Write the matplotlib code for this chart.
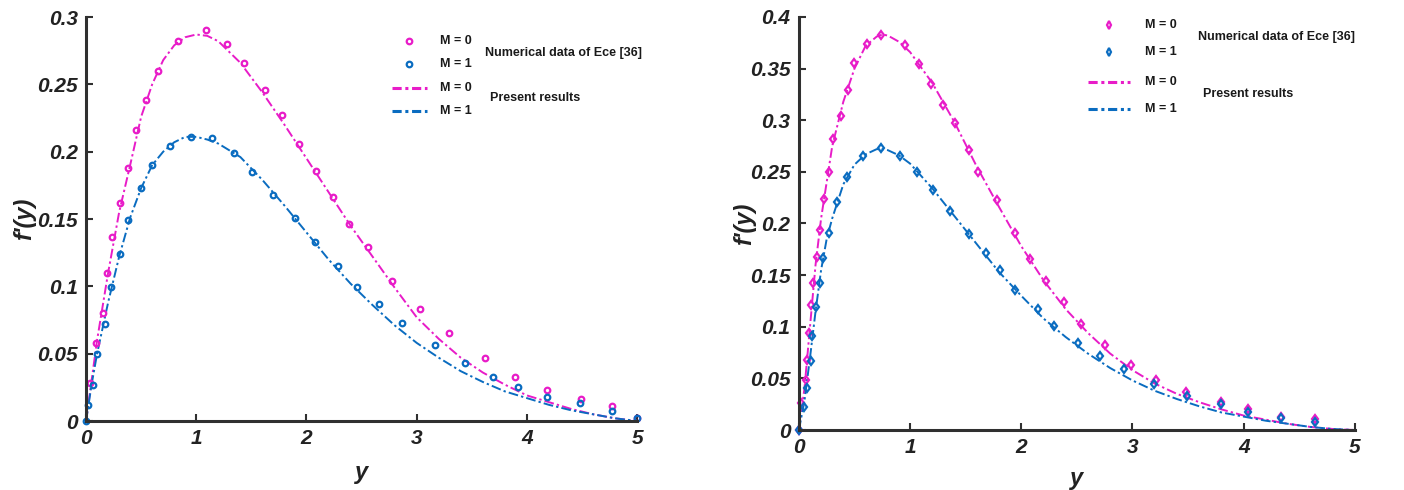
import matplotlib.pyplot as plt

# colores de las curvas
rosa = "#e81cc8"
azul = "#0a6cc0"
gris = "#303030"

# ---- panel izquierdo: datos numericos de Ece [36] ----
xa_m0 = [0.04, 0.094, 0.15, 0.19, 0.236, 0.31, 0.38, 0.45, 0.54, 0.65, 0.83, 1.09, 1.28, 1.43,
         1.62, 1.78, 1.93, 2.09, 2.24, 2.39, 2.56, 2.78, 3.03, 3.29, 3.62, 3.89, 4.18, 4.49,
         4.77, 5.0]
ya_m0 = [0.0285, 0.058, 0.080, 0.110, 0.137, 0.162, 0.188, 0.216, 0.238, 0.260, 0.282, 0.290,
         0.280, 0.266, 0.246, 0.227, 0.206, 0.186, 0.166, 0.146, 0.129, 0.104, 0.083, 0.065,
         0.0465, 0.0327, 0.0228, 0.0166, 0.0111, 0.002]
xa_m1 = [0.0, 0.015, 0.06, 0.10, 0.17, 0.23, 0.31, 0.38, 0.50, 0.60, 0.76, 0.95, 1.14, 1.34,
         1.51, 1.70, 1.90, 2.08, 2.29, 2.46, 2.66, 2.87, 3.17, 3.44, 3.69, 3.92, 4.18, 4.48,
         4.77, 5.0]
ya_m1 = [0.0, 0.012, 0.027, 0.0495, 0.072, 0.0995, 0.124, 0.149, 0.173, 0.190, 0.204, 0.211,
         0.210, 0.199, 0.185, 0.168, 0.151, 0.133, 0.115, 0.0998, 0.087, 0.0725, 0.0564,
         0.0433, 0.0327, 0.0252, 0.0178, 0.0131, 0.0074, 0.002]

# resultados presentes (panel izquierdo)
xl = [0, 0.05, 0.1, 0.2, 0.3, 0.4, 0.5, 0.6, 0.7, 0.8, 0.9, 1.0, 1.1, 1.2, 1.4, 1.6, 1.8, 2.0,
      2.2, 2.4, 2.6, 2.8, 3.0, 3.2, 3.4, 3.6, 3.8, 4.0, 4.2, 4.4, 4.6, 4.8, 5.0]
yl_m0 = [0, 0.03, 0.06, 0.11, 0.155, 0.19, 0.226, 0.25, 0.268, 0.279, 0.285, 0.287, 0.286,
         0.282, 0.266, 0.244, 0.22, 0.195, 0.17, 0.145, 0.122, 0.099, 0.077, 0.061, 0.047,
         0.036, 0.027, 0.019, 0.014, 0.009, 0.005, 0.002, 0.0]
yl_m1 = [0, 0.027, 0.05, 0.088, 0.122, 0.151, 0.173, 0.19, 0.2, 0.207, 0.211, 0.211, 0.209,
         0.206, 0.196, 0.179, 0.16, 0.14, 0.12, 0.102, 0.086, 0.071, 0.058, 0.047, 0.037,
         0.029, 0.022, 0.017, 0.012, 0.008, 0.005, 0.002, 0.0]

# ---- panel derecho: datos numericos de Ece [36] ----
xb_m0 = [0.0, 0.02, 0.06, 0.07, 0.093, 0.11, 0.13, 0.16, 0.19, 0.23, 0.27, 0.31, 0.38, 0.44,
         0.50, 0.61, 0.74, 0.95, 1.08, 1.19, 1.30, 1.40, 1.53, 1.61, 1.78, 1.94, 2.08, 2.22,
         2.38, 2.54, 2.75, 2.99, 3.21, 3.48, 3.80, 4.04, 4.34, 4.64]
yb_m0 = [0.0, 0.026, 0.048, 0.068, 0.094, 0.121, 0.142, 0.168, 0.194, 0.224, 0.250, 0.282,
         0.304, 0.329, 0.355, 0.374, 0.383, 0.3725, 0.354, 0.335, 0.315, 0.297, 0.271, 0.250,
         0.223, 0.191, 0.166, 0.144, 0.124, 0.103, 0.082, 0.063, 0.048, 0.0365, 0.0275,
         0.020, 0.013, 0.0107]
xb_m1 = [0.0, 0.044, 0.073, 0.105, 0.12, 0.153, 0.186, 0.218, 0.275, 0.347, 0.436, 0.578, 0.74,
         0.91, 1.06, 1.21, 1.36, 1.53, 1.68, 1.81, 1.94, 2.15, 2.29, 2.51, 2.71, 2.92, 3.19,
         3.49, 3.80, 4.04, 4.34, 4.64]
yb_m1 = [0.0, 0.0226, 0.041, 0.067, 0.091, 0.1195, 0.142, 0.167, 0.191, 0.221, 0.245, 0.265,
         0.273, 0.265, 0.250, 0.232, 0.212, 0.190, 0.171, 0.1545, 0.136, 0.117, 0.101, 0.084,
         0.0717, 0.059, 0.0446, 0.033, 0.0249, 0.0178, 0.0113, 0.0074]

# resultados presentes (panel derecho)
xr = [0, 0.05, 0.1, 0.15, 0.2, 0.25, 0.3, 0.4, 0.5, 0.6, 0.7, 0.75, 0.8, 0.9, 1.0, 1.2, 1.4,
      1.6, 1.8, 2.0, 2.2, 2.4, 2.6, 2.8, 3.0, 3.2, 3.4, 3.6, 3.8, 4.0, 4.2, 4.4, 4.6, 4.8, 5.0]
yr_m0 = [0, 0.04, 0.1, 0.16, 0.205, 0.24, 0.275, 0.318, 0.35, 0.372, 0.381, 0.383, 0.382,
         0.376, 0.366, 0.336, 0.298, 0.255, 0.216, 0.178, 0.145, 0.117, 0.094, 0.074, 0.058,
         0.045, 0.035, 0.027, 0.02, 0.014, 0.01, 0.006, 0.003, 0.001, 0.0]
yr_m1 = [0, 0.028, 0.07, 0.115, 0.155, 0.185, 0.205, 0.238, 0.257, 0.267, 0.272, 0.272, 0.271,
         0.266, 0.258, 0.234, 0.207, 0.18, 0.153, 0.13, 0.108, 0.09, 0.074, 0.06, 0.048, 0.038,
         0.03, 0.023, 0.017, 0.013, 0.009, 0.006, 0.003, 0.001, 0.0]

plt.rcParams['font.family'] = ['Liberation Sans', 'DejaVu Sans']

fig = plt.figure(figsize=(14.04, 4.9), dpi=100)
ax1 = fig.add_axes([0.0613, 0.1408, 0.3925, 0.8245])
ax2 = fig.add_axes([0.569, 0.1224, 0.396, 0.843])

lw = 1.4
est = (0, (5, 1.6, 1.2, 1.6))


def estilo(ax, ymax, paso):
    ax.set_xlim(0, 5)
    ax.set_ylim(0, ymax)
    ax.set_xticks([0, 1, 2, 3, 4, 5])
    n = int(round(ymax / paso))
    yt = [i * paso for i in range(n + 1)]
    ax.set_yticks(yt)
    ax.set_yticklabels(["0"] + ["%g" % v for v in yt[1:]])
    for s in ["top", "right"]:
        ax.spines[s].set_visible(False)
    for s in ["left", "bottom"]:
        ax.spines[s].set_color(gris)
        ax.spines[s].set_linewidth(2.2)
    ax.tick_params(direction="in", length=5, width=1.5, color=gris, labelsize=15,
                   labelcolor="#222222", pad=6)
    for t in ax.get_xticklabels() + ax.get_yticklabels():
        t.set_fontweight("bold")
        t.set_fontstyle("italic")
    ax.set_xlabel("y", fontsize=17, fontweight="bold", fontstyle="italic", color="#222222")
    ax.set_ylabel("f'(y)", fontsize=17, fontweight="bold", fontstyle="italic", color="#222222")


# panel izquierdo
ax1.plot(xl, yl_m0, color=rosa, lw=lw, linestyle=est, clip_on=False)
ax1.plot(xl, yl_m1, color=azul, lw=lw, linestyle=est, clip_on=False)
ax1.plot(xa_m0, ya_m0, "o", ms=4, mfc="none", mec=rosa, mew=1.6, clip_on=False)
ax1.plot(xa_m1, ya_m1, "o", ms=4, mfc="none", mec=azul, mew=1.6, clip_on=False)
estilo(ax1, 0.3, 0.05)
ax1.xaxis.set_label_coords(0.5, -0.1)
ax1.yaxis.set_label_coords(-0.09, 0.5)

# panel derecho
ax2.plot(xr, yr_m0, color=rosa, lw=lw, linestyle=est, clip_on=False)
ax2.plot(xr, yr_m1, color=azul, lw=lw, linestyle=est, clip_on=False)
ax2.plot(xb_m0, yb_m0, "d", ms=4.5, mfc="none", mec=rosa, mew=1.6, clip_on=False)
ax2.plot(xb_m1, yb_m1, "d", ms=4.5, mfc="none", mec=azul, mew=1.6, clip_on=False)
estilo(ax2, 0.4, 0.05)
ax2.xaxis.set_label_coords(0.5, -0.09)
ax2.yaxis.set_label_coords(-0.076, 0.5)


# leyendas dibujadas a mano en coordenadas de pixel de la figura
def px(x, y):
    return x / 1404, 1 - y / 490


def leyenda(mk, xm, xt, y0, y1, y2, y3, xn, yn, xp, yp, x_l0, x_l1):
    fig.lines.append(plt.Line2D(*zip(px(xm, y0)), marker=mk, ms=4, mfc="none", mec=rosa,
                                mew=1.6, ls="none", transform=fig.transFigure))
    fig.lines.append(plt.Line2D(*zip(px(xm, y1)), marker=mk, ms=4, mfc="none", mec=azul,
                                mew=1.6, ls="none", transform=fig.transFigure))
    a, b = px(x_l0, y2)
    c, d = px(x_l1, y2)
    fig.lines.append(plt.Line2D([a, c], [b, d], color=rosa, lw=2.2, ls=(0, (3, 1.2, 1, 1.2)),
                                transform=fig.transFigure))
    a, b = px(x_l0, y3)
    c, d = px(x_l1, y3)
    fig.lines.append(plt.Line2D([a, c], [b, d], color=azul, lw=2.2, ls=(0, (3, 1.2, 1, 1.2)),
                                transform=fig.transFigure))
    kw = dict(fontsize=9, fontweight="bold", color="#1a1a1a", va="center", ha="left")
    for yy, tx in [(y0, "M = 0"), (y1, "M = 1"), (y2, "M = 0"), (y3, "M = 1")]:
        fig.text(*px(xt, yy), tx, **kw)
    fig.text(*px(xn, yn), "Numerical data of Ece [36]", **kw)
    fig.text(*px(xp, yp), "Present results", **kw)


leyenda("o", 409, 440, 41, 64, 88, 111, 485, 53, 490, 98, 392, 427)
leyenda("d", 1109, 1145, 25, 52, 82, 109, 1198, 37, 1203, 94, 1088, 1130)

fig.savefig("out.png", dpi=100)
